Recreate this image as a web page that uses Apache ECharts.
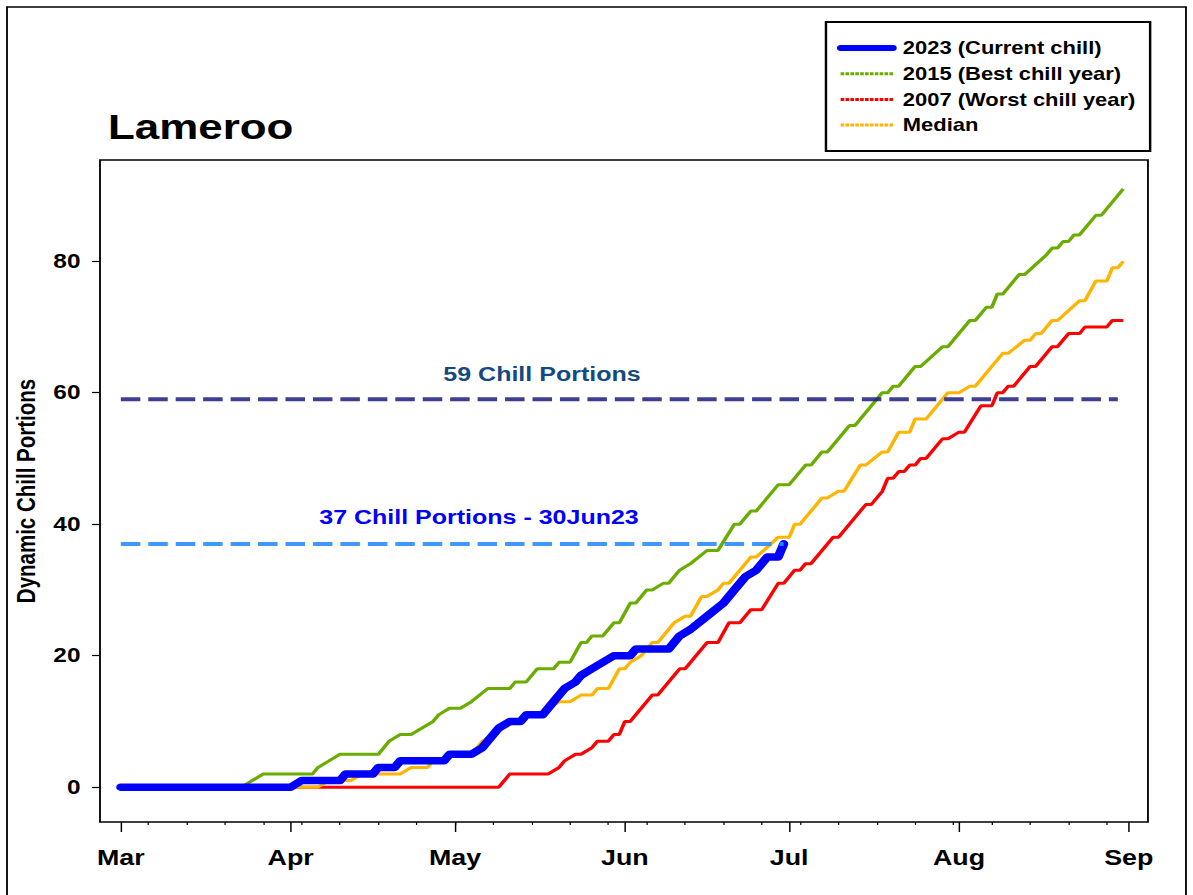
<!DOCTYPE html>
<html>
<head>
<meta charset="utf-8">
<title>Lameroo chill portions</title>
<script src="https://cdn.jsdelivr.net/npm/echarts@6/dist/echarts.min.js"></script>
<style>
  html, body { margin: 0; padding: 0; background: #fff; overflow: hidden; }
  /* the reference is stretched sideways, so draw narrower and stretch the whole chart */
  #main { width: 978px; height: 895px; transform: scaleX(1.2198); transform-origin: 0 0; }
</style>
</head>
<body>
<div id="main"></div>
<script>
  const SX = 1193 / 978;

  // x = days since 1 March
  const monthTicks = [0, 31, 61, 92, 122, 153, 184];
  const monthLabels = ['Mar', 'Apr', 'May', 'Jun', 'Jul', 'Aug', 'Sep'];
  const weekTicks = [5, 12, 19, 26, 33, 40, 47, 54, 61, 68, 75, 82, 89, 96, 103, 110, 117, 124, 131, 138, 145, 152, 159, 166, 173, 180];
  const yTicks = [0, 20, 40, 60, 80];

  // 2023 (current chill)
  const days2023 = [0, 31, 33, 40, 41, 46, 47, 50, 51, 59, 60, 64, 66, 69, 71, 73, 74, 77, 79, 81, 83, 84, 86, 88, 90, 93, 94, 100, 102, 104, 107, 110, 112, 114, 116, 118, 120, 121];
  const cp2023 = [0, 0, 1, 1, 2, 2, 3, 3, 4, 4, 5, 5, 6, 9, 10, 10, 11, 11, 13, 15, 16, 17, 18, 19, 20, 20, 21, 21, 23, 24, 26, 28, 30, 32, 33, 35, 35, 37];

  // 2015 (best chill year)
  const days2015 = [0, 22, 24, 26, 35, 36, 38, 40, 47, 49, 51, 53, 55, 57, 58, 60, 62, 64, 67, 71, 72, 74, 76, 79, 80, 82, 84, 85, 86, 88, 90, 91, 93, 94, 96, 97, 99, 100, 102, 104, 107, 109, 112, 113, 115, 116, 120, 122, 125, 126, 128, 129, 133, 134, 139, 140, 141, 142, 145, 146, 150, 151, 155, 156, 158, 159, 160, 161, 164, 165, 169, 170, 171, 172, 173, 174, 175, 178, 179, 183];
  const cp2015 = [0, 0, 1, 2, 2, 3, 4, 5, 5, 7, 8, 8, 9, 10, 11, 12, 12, 13, 15, 15, 16, 16, 18, 18, 19, 19, 22, 22, 23, 23, 25, 25, 28, 28, 30, 30, 31, 31, 33, 34, 36, 36, 40, 40, 42, 42, 46, 46, 49, 49, 51, 51, 55, 55, 60, 60, 61, 61, 64, 64, 67, 67, 71, 71, 73, 73, 75, 75, 78, 78, 81, 82, 82, 83, 83, 84, 84, 87, 87, 91];

  // 2007 (worst chill year)
  const days2007 = [0, 69, 71, 78, 80, 81, 83, 84, 86, 87, 89, 90, 91, 92, 93, 97, 98, 102, 103, 107, 109, 111, 113, 115, 117, 120, 121, 123, 124, 125, 126, 130, 131, 136, 137, 139, 140, 141, 142, 143, 144, 145, 146, 147, 150, 151, 153, 154, 157, 159, 160, 161, 162, 163, 166, 167, 170, 171, 173, 175, 176, 180, 181, 183];
  const cp2007 = [0, 0, 2, 2, 3, 4, 5, 5, 6, 7, 7, 8, 8, 10, 10, 14, 14, 18, 18, 22, 22, 25, 25, 27, 27, 31, 31, 33, 33, 34, 34, 38, 38, 43, 43, 45, 47, 47, 48, 48, 49, 49, 50, 50, 53, 53, 54, 54, 58, 58, 60, 60, 61, 61, 64, 64, 67, 67, 69, 69, 70, 70, 71, 71];

  // median
  const daysMedian = [0, 33, 36, 38, 42, 44, 51, 53, 56, 57, 59, 61, 64, 66, 68, 70, 72, 74, 77, 78, 80, 82, 84, 86, 87, 89, 91, 92, 93, 95, 97, 98, 100, 101, 103, 104, 106, 107, 109, 110, 111, 115, 116, 120, 122, 123, 124, 128, 129, 131, 132, 135, 136, 139, 140, 142, 144, 145, 147, 151, 153, 155, 156, 161, 162, 165, 166, 167, 168, 170, 171, 175, 176, 178, 180, 181, 182, 183];
  const cpMedian = [0, 0, 0, 1, 1, 2, 2, 3, 3, 4, 4, 5, 5, 7, 8, 9, 10, 11, 11, 12, 13, 13, 14, 14, 15, 15, 18, 18, 19, 20, 22, 22, 24, 25, 26, 26, 29, 29, 30, 31, 31, 35, 35, 38, 38, 40, 40, 44, 44, 45, 45, 49, 49, 51, 51, 54, 54, 56, 56, 60, 60, 61, 61, 66, 66, 68, 68, 69, 69, 71, 71, 74, 74, 77, 77, 79, 79, 80];

  // reference lines
  const targetDays = [0, 182];
  const targetCp = [59, 59];
  const todayDays = [0, 121];
  const todayCp = [37, 37];

  const pairs = (xs, ys) => xs.map((x, i) => [x, ys[i]]);
  const FONT = '"Liberation Sans", Arial, Helvetica, sans-serif';

  let myChart = echarts.init(document.getElementById('main'), null, { renderer: 'svg' });

  myChart.setOption({
    animation: false,
    backgroundColor: '#fff',
    textStyle: { fontFamily: FONT },
    grid: {
      left: 100 / SX, right: 45 / SX, top: 160, bottom: 73,
      show: true, borderColor: '#000', borderWidth: 1.5
    },
    legend: {
      orient: 'vertical',
      left: 826 / SX, top: 22,
      padding: [16, 12, 16, 9],
      itemWidth: 43, itemHeight: 20, itemGap: 5.7,
      itemStyle: { opacity: 0 },   // line only, no circle in the key
      borderColor: '#000', borderWidth: 2,
      textStyle: { fontSize: 18, fontWeight: 'bold', color: '#000', lineHeight: 20, padding: [0, 0, 0, 3] },
      data: [
        { name: '2023 (Current chill)', lineStyle: { width: 6, cap: 'round' } },
        { name: '2015 (Best chill year)', lineStyle: { width: 3, type: [3, 1] } },
        { name: '2007 (Worst chill year)', lineStyle: { width: 3, type: [3, 1] } },
        { name: 'Median', lineStyle: { width: 3, type: [3, 1] } }
      ]
    },
    xAxis: [{
      type: 'value', min: -3.8, max: 187.5,
      axisLine: { show: false, onZero: false },
      splitLine: { show: false },
      axisTick: { show: true, length: 10, customValues: monthTicks, lineStyle: { color: '#000', width: 1.2 } },
      axisLabel: {
        customValues: monthTicks,
        formatter: v => monthLabels[monthTicks.indexOf(v)],
        margin: 24, fontSize: 22, fontWeight: 'bold', color: '#000'
      }
    }, {
      type: 'value', min: -3.8, max: 187.5, position: 'bottom',
      axisLine: { show: false, onZero: false },
      splitLine: { show: false },
      axisLabel: { show: false },
      axisTick: { show: true, length: 3, customValues: weekTicks, lineStyle: { color: '#000', width: 1 } }
    }],
    yAxis: {
      type: 'value', min: -5.3, max: 95.4,
      axisLine: { show: false, onZero: false },
      splitLine: { show: false },
      axisTick: { show: true, length: 8 / SX, customValues: yTicks, lineStyle: { color: '#000', width: 1.2 } },
      axisLabel: { customValues: yTicks, margin: 16, fontSize: 20, fontWeight: 'bold', color: '#000' },
      name: 'Dynamic Chill Portions',
      nameLocation: 'middle', nameGap: 50,
      nameTextStyle: { fontSize: 20.5, fontWeight: 'bold', color: '#000' }
    },
    series: [{
      name: '2007 (Worst chill year)', type: 'line', symbol: 'none',
      data: pairs(days2007, cp2007),
      itemStyle: { color: '#ff0000' },
      lineStyle: { color: '#ff0000', width: 3 }
    }, {
      name: '2015 (Best chill year)', type: 'line', symbol: 'none',
      data: pairs(days2015, cp2015),
      itemStyle: { color: '#6aad00' },
      lineStyle: { color: '#6aad00', width: 3 }
    }, {
      name: 'Median', type: 'line', symbol: 'none',
      data: pairs(daysMedian, cpMedian),
      itemStyle: { color: '#ffb400' },
      lineStyle: { color: '#ffb400', width: 3 }
    }, {
      name: '2023 (Current chill)', type: 'line', symbol: 'none',
      data: pairs(days2023, cp2023),
      itemStyle: { color: '#0000ff' },
      lineStyle: { color: '#0000ff', width: 7.5, cap: 'round', join: 'round' }
    }, {
      name: 'target', type: 'line', symbol: 'none',
      data: pairs(targetDays, targetCp),
      lineStyle: { color: '#1c1c80', width: 4, type: [16, 6.5], opacity: 0.85 }
    }, {
      name: 'today', type: 'line', symbol: 'none',
      data: pairs(todayDays, todayCp),
      lineStyle: { color: '#2b8cff', width: 4, type: [16, 6.5], opacity: 0.9 }
    }],
    graphic: [{
      type: 'rect', silent: true, z: -10,
      shape: { x: 7 / SX, y: 7, width: 1179 / SX, height: 900 },
      style: { fill: 'none', stroke: '#000', lineWidth: 1.5 }
    }, {
      type: 'text', x: 108 / SX, y: 127,
      style: { text: 'Lameroo', fill: '#000', font: 'bold 36px ' + FONT, textAlign: 'left', textVerticalAlign: 'middle' }
    }, {
      type: 'text', x: 542 / SX, y: 374,
      style: { text: '59 Chill Portions', fill: '#144a80', font: 'bold 20.5px ' + FONT, textAlign: 'center', textVerticalAlign: 'middle' }
    }, {
      type: 'text', x: 479 / SX, y: 517,
      style: { text: '37 Chill Portions - 30Jun23', fill: '#0000ff', font: 'bold 20.5px ' + FONT, textAlign: 'center', textVerticalAlign: 'middle' }
    }]
  });
</script>
</body>
</html>
